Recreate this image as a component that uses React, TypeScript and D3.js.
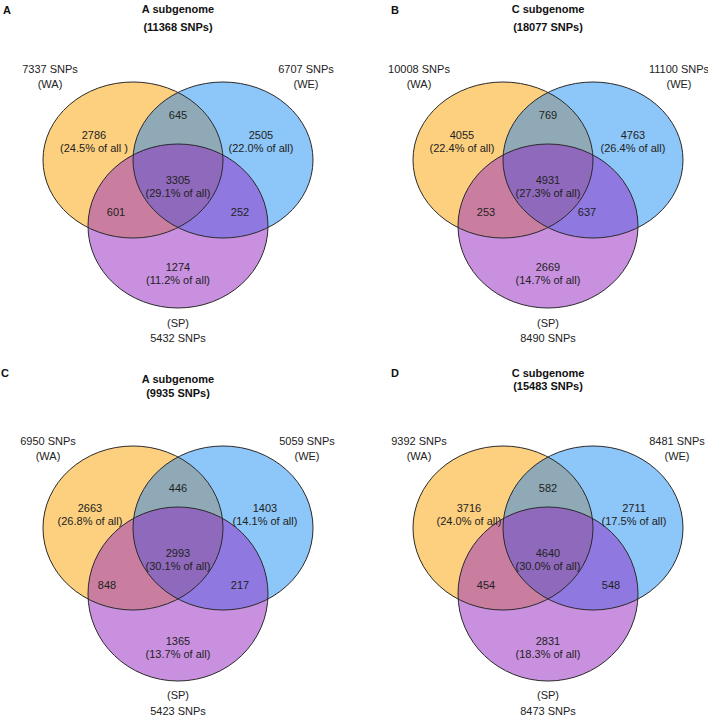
import React from "react";
import * as d3 from "d3";

// ---------- DATA ----------
const panelLetters = ["A", "B", "C", "D"];
const panelTitles = ["A subgenome", "C subgenome", "A subgenome", "C subgenome"];
const panelTotals = [11368, 18077, 9935, 15483];
const setNames = ["WA", "WE", "SP"];
// set totals per panel: WA, WE, SP
const setTotalsWA = [7337, 10008, 6950, 9392];
const setTotalsWE = [6707, 11100, 5059, 8481];
const setTotalsSP = [5432, 8490, 5423, 8473];
// region counts per panel: [WA only, WA∩WE, WE only, triple, WA∩SP, WE∩SP, SP only]
const regionKeys = ["wa", "wawe", "we", "all", "wasp", "wesp", "sp"];
const regionCountsA = [2786, 645, 2505, 3305, 601, 252, 1274];
const regionCountsB = [4055, 769, 4763, 4931, 253, 637, 2669];
const regionCountsC = [2663, 446, 1403, 2993, 848, 217, 1365];
const regionCountsD = [3716, 582, 2711, 4640, 454, 548, 2831];
// percentage labels (waOnly, weOnly, triple, spOnly)
const pctA = ["24.5% of all ", "22.0% of all", "29.1% of all", "11.2% of all"];
const pctB = ["22.4% of all", "26.4% of all", "27.3% of all", "14.7% of all"];
const pctC = ["26.8% of all", "14.1% of all", "30.1% of all", "13.7% of all"];
const pctD = ["24.0% of all", "17.5% of all", "30.0% of all", "18.3% of all"];

const regionCounts = [regionCountsA, regionCountsB, regionCountsC, regionCountsD];
const pcts = [pctA, pctB, pctC, pctD];
const setTotals = [setTotalsWA, setTotalsWE, setTotalsSP];

// ---------- LAYOUT / STYLE ----------
const W = 708;
const H = 716;
const colors = {
  wa: "#FDD07F",
  we: "#8DC6F8",
  sp: "#C990E0",
  wawe: "#8FAAB6",
  wasp: "#C97D9F",
  wesp: "#8F79E1",
  all: "#8F69BC",
};
const stroke = "#2a2a2a";
const textColor = "#222";
const FONT = "'Liberation Sans', Arial, sans-serif";

type Layout = {
  cx: number; cy: number; ry: number; spCy: number; spRy: number;
  letterX: number; letterY: number; titleY1: number; titleY2: number;
  waLblX: number; weLblX: number; setLblY1: number; setLblY2: number;
  spLblY1: number; spLblY2: number;
  // region label positions [x offset, y] relative to cx
  reg: { [k: string]: [number, number] };
};

const layouts: Layout[] = [
  {
    cx: 178, cy: 160, ry: 78, spCy: 226, spRy: 82,
    letterX: 3, letterY: 14, titleY1: 13, titleY2: 31,
    waLblX: 50, weLblX: 306, setLblY1: 73, setLblY2: 88, spLblY1: 327, spLblY2: 342,
    reg: { wa: [-84, 139], wawe: [0, 119], we: [83, 139], all: [0, 184], wasp: [-62, 216], wesp: [62, 216], sp: [0, 271] },
  },
  {
    cx: 548, cy: 160, ry: 78, spCy: 226, spRy: 82,
    letterX: 391, letterY: 14, titleY1: 13, titleY2: 31,
    waLblX: 419, weLblX: 679, setLblY1: 73, setLblY2: 88, spLblY1: 327, spLblY2: 342,
    reg: { wa: [-86, 139], wawe: [0, 119], we: [85, 139], all: [0, 184], wasp: [-62, 216], wesp: [39, 216], sp: [0, 271] },
  },
  {
    cx: 178, cy: 528, ry: 82, spCy: 594, spRy: 87,
    letterX: 1, letterY: 377, titleY1: 383, titleY2: 397,
    waLblX: 48, weLblX: 307, setLblY1: 445, setLblY2: 460, spLblY1: 699, spLblY2: 715,
    reg: { wa: [-88, 512], wawe: [0, 492], we: [87, 512], all: [0, 557], wasp: [-71, 589], wesp: [62, 589], sp: [0, 645] },
  },
  {
    cx: 548, cy: 528, ry: 82, spCy: 594, spRy: 87,
    letterX: 391, letterY: 377, titleY1: 377, titleY2: 390,
    waLblX: 419, weLblX: 677, setLblY1: 445, setLblY2: 460, spLblY1: 699, spLblY2: 715,
    reg: { wa: [-79, 512], wawe: [0, 492], we: [86, 512], all: [0, 557], wasp: [-62, 589], wesp: [63, 589], sp: [0, 645] },
  },
];

const RX = 90;
const D = 45;

function Venn({ i }: { i: number }) {
  const L = layouts[i];
  // scale from abstract set-axis position (-1, 0, 1) to pixel x
  const xs = d3.scaleLinear().domain([-1, 1]).range([L.cx - D, L.cx + D]);
  const ell = {
    wa: { cx: xs(-1), cy: L.cy, rx: RX, ry: L.ry },
    we: { cx: xs(1), cy: L.cy, rx: RX, ry: L.ry },
    sp: { cx: xs(0), cy: L.spCy, rx: RX, ry: L.spRy },
  };
  const id = (k: string) => `clip-${i}-${k}`;
  const E = (k: "wa" | "we" | "sp", props: any = {}) => (
    <ellipse cx={ell[k].cx} cy={ell[k].cy} rx={ell[k].rx} ry={ell[k].ry} {...props} />
  );
  const counts = regionCounts[i];
  const pc = pcts[i];
  const fmt = d3.format("d");
  const regText = (k: string, idx: number, pct?: string) => {
    const [dx, y] = L.reg[k];
    const x = L.cx + dx;
    return (
      <g key={k}>
        <text x={x} y={y}>{fmt(counts[idx])}</text>
        {pct !== undefined && <text x={x} y={y + 13}>({pct})</text>}
      </g>
    );
  };
  return (
    <g>
      <defs>
        <clipPath id={id("wa")}>{E("wa")}</clipPath>
        <clipPath id={id("we")}>{E("we")}</clipPath>
        <clipPath id={id("sp")}>{E("sp")}</clipPath>
      </defs>
      {E("wa", { fill: colors.wa })}
      {E("we", { fill: colors.we })}
      {E("sp", { fill: colors.sp })}
      <g clipPath={`url(#${id("wa")})`}>
        {E("we", { fill: colors.wawe })}
        {E("sp", { fill: colors.wasp })}
      </g>
      <g clipPath={`url(#${id("we")})`}>
        {E("sp", { fill: colors.wesp })}
      </g>
      <g clipPath={`url(#${id("wa")})`}>
        <g clipPath={`url(#${id("we")})`}>{E("sp", { fill: colors.all })}</g>
      </g>
      {E("wa", { fill: "none", stroke, strokeWidth: 1 })}
      {E("we", { fill: "none", stroke, strokeWidth: 1 })}
      {E("sp", { fill: "none", stroke, strokeWidth: 1 })}

      <g fontFamily={FONT} fontSize={11} fill={textColor} textAnchor="middle">
        {regText("wa", 0, pc[0])}
        {regText("wawe", 1)}
        {regText("we", 2, pc[1])}
        {regText("all", 3, pc[2])}
        {regText("wasp", 4)}
        {regText("wesp", 5)}
        {regText("sp", 6, pc[3])}

        <text x={L.waLblX} y={L.setLblY1}>{setTotals[0][i]} SNPs</text>
        <text x={L.waLblX} y={L.setLblY2}>({setNames[0]})</text>
        <text x={L.weLblX} y={L.setLblY1}>{setTotals[1][i]} SNPs</text>
        <text x={L.weLblX} y={L.setLblY2}>({setNames[1]})</text>
        <text x={L.cx} y={L.spLblY1}>({setNames[2]})</text>
        <text x={L.cx} y={L.spLblY2}>{setTotals[2][i]} SNPs</text>
      </g>
      <g fontFamily={FONT} fontSize={11} fontWeight="bold" fill="#111">
        <text x={L.letterX} y={L.letterY}>{panelLetters[i]}</text>
        <text x={L.cx} y={L.titleY1} textAnchor="middle">{panelTitles[i]}</text>
        <text x={L.cx} y={L.titleY2} textAnchor="middle">({panelTotals[i]} SNPs)</text>
      </g>
    </g>
  );
}

export default function App() {
  return (
    <svg width={W} height={H} style={{ position: "absolute", left: 0, top: 0, background: "#fff" }}>
      <rect width={W} height={H} fill="#fff" />
      {panelLetters.map((_, i) => (
        <Venn key={i} i={i} />
      ))}
    </svg>
  );
}
